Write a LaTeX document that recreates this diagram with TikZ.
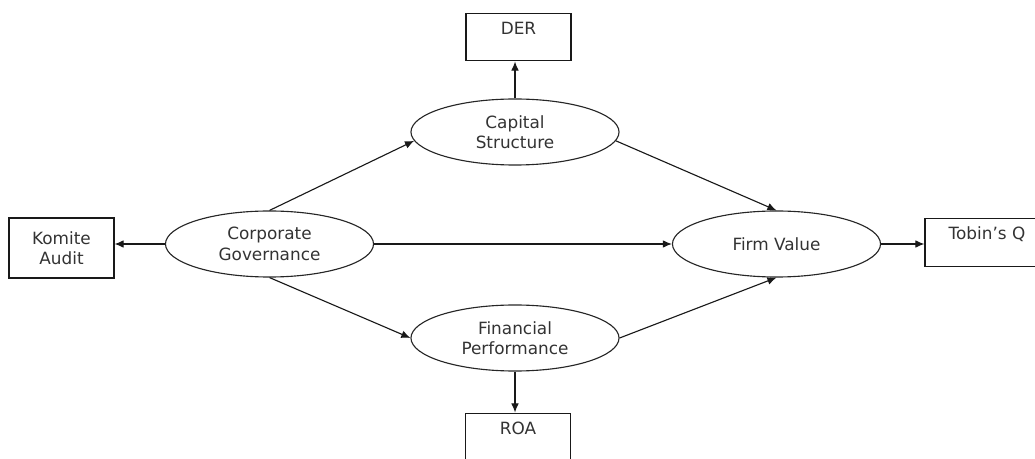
\documentclass[tikz,border=0pt]{standalone}
\usepackage{fontspec}
\setmainfont{DejaVu Sans}
\usetikzlibrary{shapes.geometric,arrows.meta}

\begin{document}
\begin{tikzpicture}[x=0.025cm, y=-0.025cm,
    font=\fontsize{12}{14.5}\selectfont, text=black!80,
    oval/.style={draw=black!85, line width=0.8pt, ellipse, inner sep=0pt,
        minimum width=5.2cm, minimum height=1.65cm, align=center},
    box/.style={draw=black!90, line width=0.8pt, rectangle, inner sep=0pt,
        minimum width=2.625cm, align=center},
    topbox/.style={box, text height=15pt, text depth=19pt},
    link/.style={draw=black!90, line width=0.8pt, -{Latex[length=6.5pt,width=5.5pt]}}]
    \useasboundingbox (0,0) rectangle (1035,459);
    % variables
    \node[oval] (cap) at (515,132) {Capital\\Structure};
    \node[oval] (corp) at (269.5,244) {Corporate\\Governance};
    \node[oval] (firm) at (776.5,244) {Firm Value};
    \node[oval] (fin) at (515,338) {Financial\\Performance};
    % indicators
    \node[topbox] (der) at (518.5,37) {DER};
    \node[box, minimum height=1.5cm] (komite) at (61.5,248) {Komite\\Audit};
    \node[topbox, minimum width=3.1cm] (tobin) at (987,242.5) {Tobin's Q};
    \node[topbox] (roa) at (518,437) {ROA};
    % paths
    \draw[link] (corp.north) -- (cap.185);
    \draw[link] (cap.355) -- (firm.north);
    \draw[link] (corp.south) -- (fin.west);
    \draw[link] (fin.east) -- (firm.south);
    \draw[link] (corp.east) -- (firm.west);
    \draw[link] (corp.west) -- (corp.west -| komite.east);
    \draw[link] (firm.east) -- (firm.east -| tobin.west);
    \draw[link] (cap.north) -- (cap.north |- der.south);
    \draw[link] (fin.south) -- (fin.south |- roa.north);
\end{tikzpicture}
\end{document}
